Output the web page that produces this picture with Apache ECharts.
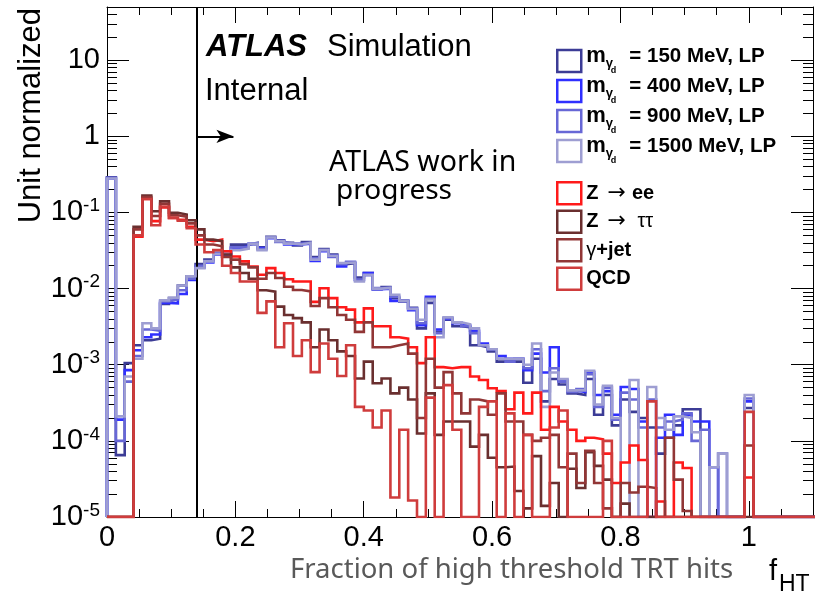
<!DOCTYPE html>
<html>
<head>
<meta charset="utf-8">
<title>Fraction of high threshold TRT hits</title>
<script src="https://cdn.jsdelivr.net/npm/echarts@6/dist/echarts.min.js"></script>
<style>
  html, body { margin: 0; padding: 0; background: #ffffff; }
  #chart { width: 823px; height: 595px; }
</style>
</head>
<body>
<div id="chart"></div>
<script>
// ---- binning of f_HT histograms ----
const BIN_WIDTH = 0.0138;
const X_MIN = 0, X_MAX = 1.1;
const Y_MIN = 1e-5, Y_MAX = 50;
const CUT_VALUE = 0.14;      // selection cut on f_HT
const ARROW_Y = 1;
const ARROW_END = 0.197;

const xTickLabels = ['0', '0.2', '0.4', '0.6', '0.8', '1'];
const yDecades = [-5, -4, -3, -2, -1, 0, 1];

// ---- unit-normalised bin contents (80 bins) ----
const m150 = [0.29, 6.5e-5, 1.05e-3, 1.8e-3, 2.1e-3, 2.2e-3, 6.3e-3, 7.5e-3, 0.011, 0.0145,
  0.021, 0.024, 0.0295, 0.0264, 0.0378, 0.0378, 0.040, 0.035, 0.048, 0.043,
  0.040, 0.037, 0.041, 0.026, 0.033, 0.028, 0.021, 0.0215, 0.014, 0.016,
  0.0098, 0.0105, 0.0075, 0.0068, 0.0056, 0.0030, 0.0065, 0.0027, 0.0039, 0.0032,
  0.0031, 0.0018, 0.0017, 0.0015, 0.0011, 0.0011, 0.0011, 5.8e-4, 0.0012, 3.3e-4,
  6.5e-4, 5.5e-4, 4.2e-4, 4.0e-4, 6.5e-4, 2.2e-4, 4.0e-4, 1.6e-4, 3.5e-4, 2.4e-4,
  2.0e-4, 1.5e-4, 6.8e-5, 1.1e-4, 1.6e-4, 2.6e-4, 2.6e-4, 0, 0, 0,
  0, 0, 2.7e-4, 0, 0, 0, 0, 0, 0, 0];

const m400 = [0.28, 1.9e-4, 8.5e-4, 1.55e-3, 2.3e-3, 2.5e-3, 6.5e-3, 6.4e-3, 8.5e-3, 0.013,
  0.019, 0.022, 0.028, 0.028, 0.034, 0.036, 0.039, 0.034, 0.046, 0.042,
  0.038, 0.038, 0.039, 0.023, 0.031, 0.027, 0.0196, 0.022, 0.013, 0.016,
  0.0098, 0.010, 0.0069, 0.0069, 0.0052, 0.0033, 0.0078, 0.0029, 0.0040, 0.0035,
  0.0033, 0.0028, 0.0019, 0.0016, 0.0013, 0.0012, 0.0012, 8.5e-4, 0.0014, 7.9e-4,
  0.0017, 6.2e-4, 4.6e-4, 4.4e-4, 8.0e-4, 4.0e-4, 4.5e-4, 2.2e-4, 5.1e-4, 4.8e-4,
  1.8e-4, 0, 1.1e-4, 2.2e-4, 1.2e-4, 2.2e-4, 1.8e-4, 1.8e-4, 4.5e-5, 0,
  0, 0, 3.3e-4, 0, 0, 0, 0, 0, 0, 0];

const m900 = [0.285, 1.0e-4, 6.0e-4, 1.3e-3, 2.9e-3, 2.8e-3, 6.8e-3, 7.2e-3, 9.5e-3, 0.0135,
  0.020, 0.023, 0.029, 0.029, 0.035, 0.035, 0.038, 0.033, 0.047, 0.041,
  0.039, 0.039, 0.040, 0.025, 0.032, 0.026, 0.021, 0.0225, 0.013, 0.015,
  0.0102, 0.0103, 0.0078, 0.0070, 0.0055, 0.0035, 0.0074, 0.0026, 0.0041, 0.0036,
  0.0032, 0.0026, 0.0018, 0.0016, 0.0012, 0.0011, 0.0012, 9.0e-4, 0.0016, 4.5e-4,
  9.0e-4, 6.0e-4, 4.4e-4, 4.8e-4, 7.5e-4, 2.8e-4, 5.0e-4, 1.9e-4, 4.3e-4, 3.5e-4,
  1.5e-4, 3.5e-4, 1.5e-4, 1.8e-4, 1.9e-4, 2.3e-4, 1.0e-4, 1.4e-4, 0, 6.8e-5,
  0, 0, 3.6e-4, 0, 0, 0, 0, 0, 0, 0];

const m1500 = [0.28, 2.1e-4, 7.0e-4, 1.2e-3, 3.5e-3, 3.0e-3, 7.0e-3, 7.6e-3, 0.011, 0.0145,
  0.0186, 0.0228, 0.0285, 0.030, 0.032, 0.0334, 0.039, 0.032, 0.047, 0.042,
  0.039, 0.038, 0.040, 0.024, 0.032, 0.027, 0.0217, 0.022, 0.0124, 0.0152,
  0.010, 0.0102, 0.0083, 0.0069, 0.0054, 0.0039, 0.0072, 0.0023, 0.0042, 0.0036,
  0.0034, 0.0030, 0.0018, 0.0016, 0.0012, 0.0012, 0.0012, 0.0010, 0.0019, 2.8e-4,
  7.9e-4, 6.5e-4, 4.6e-4, 4.6e-4, 8.3e-4, 3.0e-4, 5.3e-4, 2.0e-4, 0, 6.3e-4,
  0, 5.1e-4, 2.0e-4, 1.4e-4, 2.1e-4, 2.0e-4, 1.3e-4, 0, 4.5e-5, 6.8e-5,
  0, 0, 4.0e-4, 0, 0, 0, 0, 0, 0, 0];

const zee = [0, 0, 0, 0.048, 0.15, 0.077, 0.116, 0.085, 0.080, 0.065,
  0.044, 0.042, 0.044, 0.031, 0.0264, 0.0228, 0.0195, 0.0152, 0.0186, 0.016,
  0.0133, 0.0124, 0.0124, 0.0067, 0.0101, 0.0075, 0.0057, 0.0053, 0.0036, 0.0055,
  0.0032, 0.0032, 0.0023, 0.0022, 0.0017, 0.00105, 0.0023, 9.3e-4, 9.0e-4, 9.3e-4,
  9.3e-4, 7.0e-4, 6.3e-4, 4.9e-4, 4.5e-4, 2.6e-4, 4.3e-4, 2.3e-4, 4.3e-4, 1.4e-4,
  2.8e-4, 1.8e-4, 1.4e-4, 1.0e-4, 1.1e-4, 1.05e-4, 6.8e-5, 2.8e-5, 5.2e-5, 8.7e-5,
  5.6e-5, 0, 1.6e-5, 0, 5.2e-5, 4.4e-5, 0, 0, 0, 0,
  0, 0, 3.3e-5, 0, 0, 0, 0, 0, 0, 0];

const ztautau = [0, 0, 0, 0.065, 0.167, 0.104, 0.14, 0.099, 0.094, 0.079,
  0.060, 0.044, 0.042, 0.028, 0.019, 0.016, 0.0135, 0.0095, 0.0091, 0.0058,
  0.0045, 0.0041, 0.0036, 0.0017, 0.0029, 0.0021, 0.0015, 0.0013, 6.6e-4, 0.0011,
  5.7e-4, 6.6e-4, 4.2e-4, 5.0e-4, 3.5e-4, 1.25e-4, 4.2e-4, 1.2e-4, 1.8e-4, 1.8e-4,
  1.8e-4, 8.4e-5, 1.2e-4, 6.0e-5, 4.5e-5, 4.6e-5, 2.2e-5, 1.3e-5, 6.3e-5, 1.4e-5,
  2.8e-5, 0, 4.3e-5, 2.4e-5, 7.1e-5, 4.7e-5, 3.1e-5, 0, 1.5e-5, 0,
  0, 0, 0, 0, 0, 0, 0, 0, 0, 0,
  0, 0, 0, 0, 0, 0, 0, 0, 0, 0];

const gammaJet = [0, 0, 0, 0.060, 0.16, 0.09, 0.13, 0.092, 0.088, 0.072,
  0.050, 0.038, 0.036, 0.026, 0.024, 0.021, 0.019, 0.0135, 0.016, 0.0138,
  0.0106, 0.0096, 0.0092, 0.0059, 0.0075, 0.0057, 0.0045, 0.0039, 0.0027, 0.0036,
  0.0017, 0.0017, 0.0018, 0.0019, 0.0014, 2.0e-4, 0.0012, 5.0e-4, 8.0e-4, 4.2e-4,
  2.3e-4, 3.5e-4, 3.3e-4, 2.2e-4, 4.2e-4, 1.8e-4, 1.8e-4, 1.2e-4, 1.0e-4, 1.1e-4,
  1.2e-4, 4.5e-5, 6.8e-5, 2.8e-5, 7.4e-5, 2.8e-5, 1.3e-5, 0, 2.8e-5, 2.1e-5,
  2.5e-5, 2.4e-5, 0, 1.1e-4, 3.1e-5, 1.2e-5, 0, 0, 0, 0,
  0, 0, 8.7e-5, 0, 0, 0, 0, 0, 0, 0];

const qcd = [0, 0, 0, 0.050, 0.15, 0.068, 0.12, 0.085, 0.078, 0.062,
  0.038, 0.030, 0.032, 0.020, 0.016, 0.0124, 0.0124, 0.0048, 0.0068, 0.0017,
  0.0035, 0.0013, 0.0021, 8.0e-4, 0.0019, 0.0012, 7.1e-4, 0.0018, 2.8e-4, 2.5e-4,
  1.5e-4, 2.5e-4, 1.8e-5, 1.4e-4, 1.65e-5, 0, 3.7e-4, 0, 5.4e-4, 1.4e-4,
  0, 0, 2.8e-4, 3.3e-4, 0, 2.3e-4, 0, 1.2e-4, 0, 0,
  1.5e-4, 2.5e-4, 0, 0, 0, 0, 1.0e-4, 0, 0, 0,
  0, 3.3e-4, 0, 0, 0, 0, 0, 0, 0, 0,
  0, 0, 2.4e-4, 0, 0, 0, 0, 0, 0, 0];

// ---- sample names and line colours ----
const signalMasses = ['150', '400', '900', '1500'];
const signalColors = ['#3c3c96', '#2f2fff', '#6767d6', '#9e9ed2'];
const signalValues = [m150, m400, m900, m1500];

const bkgNames = ['Z \u2192 ee', 'Z \u2192 \u03c4\u03c4', '\u03b3+jet', 'QCD'];
const bkgColors = ['#ff1a1a', '#6a2f2f', '#913636', '#cf3c3c'];
const bkgValues = [zee, ztautau, gammaJet, qcd];

const FONT = '"Liberation Sans", Arial, Helvetica, sans-serif';
const SYMBOL_FONT = '"DejaVu Sans", "Liberation Sans", sans-serif';
const NOTE_FONT = '"Noto Sans", "Open Sans", sans-serif';

function signalName(mass) { return 'm\u03b3d = ' + mass + ' MeV, LP'; }

// step outline of a histogram; empty bins sit on the lower frame
function histPoints(vals) {
  const pts = [[0, Y_MIN]];
  vals.forEach((v, i) => pts.push([i * BIN_WIDTH, v > 0 ? v : Y_MIN]));
  const last = vals[vals.length - 1];
  pts.push([vals.length * BIN_WIDTH, last > 0 ? last : Y_MIN]);
  pts.push([vals.length * BIN_WIDTH, Y_MIN]);
  return pts;
}

function histSeries(name, color, vals, z) {
  return {
    name: name, type: 'line', step: 'end', data: histPoints(vals),
    xAxisIndex: 0, yAxisIndex: 0,
    showSymbol: false, symbol: 'none', clip: true, z: z,
    lineStyle: { color: color, width: 2.6, join: 'miter', cap: 'butt' },
    itemStyle: { color: color },
    emphasis: { disabled: true }, animation: false
  };
}

const series = [];
signalMasses.forEach((m, i) => series.push(histSeries(signalName(m), signalColors[i], signalValues[i], 2 + i)));
bkgNames.forEach((n, i) => series.push(histSeries(n, bkgColors[i], bkgValues[i], 6 + i)));

// cut line and arrow
series[series.length - 1].markLine = {
  silent: true, animation: false, symbol: ['none', 'none'], label: { show: false },
  lineStyle: { color: '#000', width: 2, type: 'solid' },
  emphasis: { disabled: true },
  data: [
    { xAxis: CUT_VALUE },
    [
      { coord: [CUT_VALUE, ARROW_Y], symbol: 'none', lineStyle: { width: 1.8 } },
      { coord: [ARROW_END, ARROW_Y], symbol: 'arrow', symbolSize: [10, 17] }
    ]
  ]
};

// log-axis minor ticks at 2..9 x 10^k
const yMinorTicks = [];
yDecades.forEach(d => {
  for (let m = 2; m <= 9; m++) {
    const v = m * Math.pow(10, d);
    if (v <= Y_MAX * 1.0001) yMinorTicks.push(v);
  }
});

function yLabel(v) {
  const lg = Math.log10(v);
  const e = Math.round(lg);
  if (Math.abs(lg - e) > 1e-6 || yDecades.indexOf(e) < 0) return '';
  if (e === 0) return '{b|1}';
  if (e === 1) return '{b|10}';
  return '{b|10}{s|' + e + '}';
}

function xLabel(v) {
  const i = Math.round(v / 0.2);
  if (Math.abs(v - i * 0.2) > 1e-9 || i >= xTickLabels.length) return '';
  return xTickLabels[i];
}

const blackLine = { color: '#000', width: 1 };

function xAxisDef(position, interval, tickLen, showLine, showLabel) {
  return {
    type: 'value', min: X_MIN, max: X_MAX, interval: interval, position: position,
    axisLine: { show: showLine, onZero: false, lineStyle: blackLine },
    axisTick: { show: true, inside: true, length: tickLen, lineStyle: blackLine },
    axisLabel: showLabel ? {
      show: true, margin: 6, fontSize: 29, fontFamily: FONT, color: '#000',
      showMaxLabel: false, formatter: xLabel
    } : { show: false },
    splitLine: { show: false }
  };
}

function yAxisDef(position, major, showLine, showLabel) {
  const a = {
    type: 'log', logBase: 10, min: Y_MIN, max: Y_MAX, position: position,
    axisLine: { show: showLine, onZero: false, lineStyle: blackLine },
    axisTick: { show: true, inside: true, length: major ? 22 : 10, lineStyle: blackLine },
    axisLabel: { show: false },
    splitLine: { show: false }
  };
  if (!major) a.axisTick.customValues = yMinorTicks;
  if (showLabel) {
    a.axisLabel = {
      show: true, margin: 7, formatter: yLabel,
      rich: {
        b: { fontSize: 29, fontFamily: FONT, color: '#000', lineHeight: 30 },
        s: { fontSize: 19, fontFamily: FONT, color: '#000', lineHeight: 30, padding: [0, 0, 13, 0] }
      }
    };
  }
  return a;
}

const legendBase = {
  orient: 'vertical', left: 556, padding: 0,
  itemWidth: 24, itemHeight: 22, itemGap: 4, icon: 'rect', selectedMode: false,
  textStyle: { fontFamily: FONT, fontSize: 20, fontWeight: 'bold', color: '#000' }
};

const signalLegend = Object.assign({}, legendBase, {
  top: 45, itemGap: -0.5,
  data: signalMasses.map((m, i) => ({
    name: signalName(m),
    itemStyle: { color: 'rgba(0,0,0,0)', borderColor: signalColors[i], borderWidth: 2.5 }
  })),
  formatter: function (name) {
    const mass = signalMasses.find(m => signalName(m) === name);
    return '{m|m}{g|\u03b3}{d|d}{t|= ' + mass + ' MeV, LP}';
  },
  textStyle: Object.assign({}, legendBase.textStyle, {
    rich: {
      m: { fontSize: 22, fontWeight: 'bold', fontFamily: FONT, lineHeight: 22, height: 12, verticalAlign: 'top' },
      g: { fontSize: 13, fontWeight: 'bold', fontFamily: FONT, lineHeight: 22, height: 18, verticalAlign: 'bottom', width: 5 },
      d: { fontSize: 9, fontWeight: 'bold', fontFamily: FONT, lineHeight: 22, height: 2, verticalAlign: 'bottom' },
      t: { fontSize: 20.5, fontWeight: 'bold', fontFamily: FONT, lineHeight: 22, height: 12, verticalAlign: 'top', padding: [0, 0, 0, 13] }
    }
  })
});

const bkgLegend = Object.assign({}, legendBase, {
  top: 181,
  data: bkgNames.map((n, i) => ({
    name: n,
    itemStyle: { color: 'rgba(0,0,0,0)', borderColor: bkgColors[i], borderWidth: 2.5 }
  })),
  formatter: function (name) {
    if (name === bkgNames[0]) return '{b|Z}{a|\u2192}{b|ee}';
    if (name === bkgNames[1]) return '{b|Z}{a|\u2192}{n| \u03c4\u03c4}';
    if (name === bkgNames[2]) return '{n|\u03b3}{b|+jet}';
    return '{b|QCD}';
  },
  textStyle: Object.assign({}, legendBase.textStyle, {
    rich: {
      b: { fontSize: 20, fontWeight: 'bold', fontFamily: FONT, lineHeight: 22 },
      n: { fontSize: 20, fontWeight: 'normal', fontFamily: FONT, lineHeight: 22 },
      a: { fontSize: 22, fontWeight: 'normal', fontFamily: SYMBOL_FONT, lineHeight: 22, padding: [0, 6, 0, 9] }
    }
  })
});

const texts = [
  { type: 'text', x: 206, y: 47, style: { text: 'ATLAS', font: 'italic bold 31px ' + FONT, fill: '#000', verticalAlign: 'middle' } },
  { type: 'text', x: 327, y: 47, style: { text: 'Simulation', font: '31px ' + FONT, fill: '#000', verticalAlign: 'middle' } },
  { type: 'text', x: 205, y: 91, style: { text: 'Internal', font: '31px ' + FONT, fill: '#000', verticalAlign: 'middle' } },
  { type: 'text', x: 329, y: 163, style: { text: 'ATLAS work in', font: '28.5px ' + NOTE_FONT, fill: '#000', verticalAlign: 'middle' } },
  { type: 'text', x: 336, y: 191, style: { text: 'progress', font: '28px ' + NOTE_FONT, fill: '#000', verticalAlign: 'middle' } },
  { type: 'text', x: 290, y: 570, style: { text: 'Fraction of high threshold TRT hits', font: '27.5px ' + NOTE_FONT, fill: '#595959', verticalAlign: 'middle' } },
  { type: 'text', x: 769, y: 572, style: { text: 'f', font: '29px ' + FONT, fill: '#000', verticalAlign: 'middle' } },
  { type: 'text', x: 779, y: 585, style: { text: 'HT', font: '23px ' + FONT, fill: '#000', verticalAlign: 'middle' } },
  { type: 'text', x: 31, y: 8, rotation: Math.PI / 2,
    style: { text: 'Unit normalized', font: '31px ' + FONT, fill: '#000', align: 'right', verticalAlign: 'middle' } }
];

const chart = echarts.init(document.getElementById('chart'), null, { renderer: 'canvas' });
chart.setOption({
  animation: false,
  backgroundColor: '#ffffff',
  grid: { left: 107, right: 10, top: 7, bottom: 78, containLabel: false, outerBoundsMode: 'none' },
  xAxis: [
    xAxisDef('bottom', 0.2, 16, true, true),
    xAxisDef('bottom', 0.05, 8, false, false),
    xAxisDef('top', 0.2, 16, true, false),
    xAxisDef('top', 0.05, 8, false, false)
  ],
  yAxis: [
    yAxisDef('left', true, true, true),
    yAxisDef('left', false, false, false),
    yAxisDef('right', true, true, false),
    yAxisDef('right', false, false, false)
  ],
  legend: [signalLegend, bkgLegend],
  graphic: texts,
  series: series
});
</script>
</body>
</html>
